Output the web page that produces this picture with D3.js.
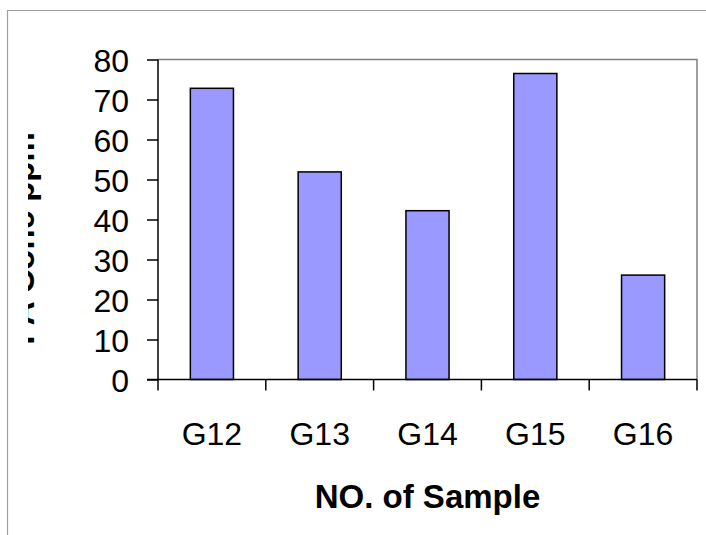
<!DOCTYPE html>
<html>
<head>
<meta charset="utf-8">
<script src="https://cdn.jsdelivr.net/npm/d3@7/dist/d3.min.js"></script>
<style>
html,body{margin:0;padding:0;background:#fff;}
svg{display:block;}
text{font-family:"Liberation Sans",Arial,sans-serif;}
</style>
</head>
<body>
<svg id="chart" width="706" height="535"></svg>
<script>
const categories = ["G12","G13","G14","G15","G16"];
const values = [72.8, 51.9, 42.2, 76.5, 26.1];
const yTicks = [0,10,20,30,40,50,60,70,80];
const xTitle = "NO. of Sample";
const yTitle = "PA Conc ppm";

const svg = d3.select("#chart");
const W = 706, H = 535;
const m = {left:158, right:697, top:59.5, bottom:379.5};

// outer chart border
svg.append("path")
  .attr("d", `M7.5,${H+2} V10.5 H${W+2}`)
  .attr("fill","none").attr("stroke","#a0a0a0").attr("stroke-width",1.2);

const x = d3.scaleBand().domain(categories).range([m.left, m.right]).paddingInner(0.6).paddingOuter(0.3);
const xb = d3.scaleBand().domain(categories).range([m.left, m.right]);
const y = d3.scaleLinear().domain([0,80]).range([m.bottom, m.top]);

// plot area border (top and right gray)
svg.append("path")
  .attr("d", `M${m.left},${m.top} H${m.right} V${m.bottom}`)
  .attr("fill","none").attr("stroke","#808080").attr("stroke-width",1.5);

// bars
svg.append("g").selectAll("rect").data(values).join("rect")
  .attr("x",(d,i)=>x(categories[i]))
  .attr("width",x.bandwidth())
  .attr("y",d=>y(d))
  .attr("height",d=>y(0)-y(d))
  .attr("fill","#9999ff").attr("stroke","#000").attr("stroke-width",1.5);

// y axis
const yAxis = d3.axisLeft(y).tickValues(yTicks).tickSize(11).tickPadding(18);
const gy = svg.append("g").attr("transform",`translate(${m.left},0)`).call(yAxis);
gy.select(".domain").attr("stroke","#000").attr("stroke-width",1.5).attr("d",`M0,${m.top}V${m.bottom}`);
gy.selectAll(".tick line").attr("stroke","#000").attr("stroke-width",1.5);
gy.selectAll(".tick text").attr("font-size",32).attr("fill","#000").attr("dy","0.36em")
  .style("font-family","'Liberation Sans',Arial,sans-serif");

// x axis with ticks between categories
const gx = svg.append("g").attr("transform",`translate(0,${m.bottom})`);
gx.append("line").attr("x1",m.left-11).attr("x2",m.right).attr("y1",0).attr("y2",0)
  .attr("stroke","#000").attr("stroke-width",1.5);
const bounds = categories.map(c=>xb(c)).concat([xb(categories[categories.length-1])+xb.bandwidth()]);
gx.selectAll("line.tk").data(bounds).join("line").attr("class","tk")
  .attr("x1",d=>d).attr("x2",d=>d).attr("y1",0).attr("y2",11)
  .attr("stroke","#000").attr("stroke-width",1.5);
gx.selectAll("text").data(categories).join("text")
  .attr("x",d=>xb(d)+xb.bandwidth()/2).attr("y",65)
  .attr("text-anchor","middle").attr("font-size",32).attr("fill","#000").text(d=>d);

// x title
svg.append("text").attr("x",(m.left+m.right)/2).attr("y",508)
  .attr("text-anchor","middle").attr("font-size",33).attr("font-weight","bold").text(xTitle);

// y title (clipped on the left as in the reference)
const defs = svg.append("defs");
defs.append("clipPath").attr("id","yclip").append("rect")
  .attr("x",28).attr("y",0).attr("width",40).attr("height",H);
svg.append("g").attr("clip-path","url(#yclip)")
  .append("text").attr("transform","translate(34,238.5) rotate(-90)")
  .attr("text-anchor","middle").attr("font-size",33).attr("font-weight","bold").text(yTitle);
</script>
</body>
</html>
